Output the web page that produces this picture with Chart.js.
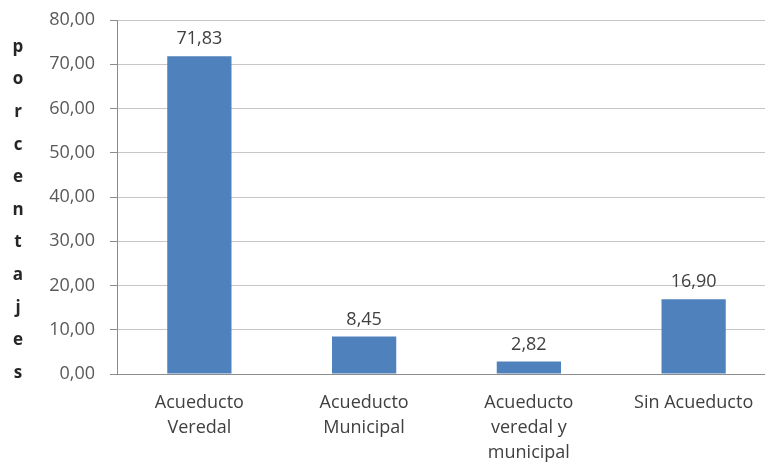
<!DOCTYPE html>
<html>
<head>
<meta charset="utf-8">
<script src="https://cdn.jsdelivr.net/npm/chart.js@4/dist/chart.umd.min.js"></script>
<style>
  body { margin:0; background:#fff; overflow:hidden; }
  #wrap { width:776px; height:470px; }
</style>
</head>
<body>
<div id="wrap"><canvas id="myChart"></canvas></div>
<script>
var categorias = [["Acueducto","Veredal"], ["Acueducto","Municipal"], ["Acueducto","veredal y","municipal"], "Sin Acueducto"];
var porcentajes = [71.83, 8.45, 2.82, 16.90];
var tituloY = "porcentajes";

function coma(v){ return v.toFixed(2).replace('.', ','); }

// etiquetas encima de cada barra
var etiquetas = {
  id:'etiquetas',
  afterDatasetsDraw:function(chart){
    var ctx = chart.ctx;
    var meta = chart.getDatasetMeta(0);
    ctx.save();
    ctx.font = '18px "Open Sans"';
    ctx.fillStyle = '#404040';
    ctx.textAlign = 'center';
    ctx.textBaseline = 'alphabetic';
    meta.data.forEach(function(bar, i){
      ctx.fillText(coma(porcentajes[i]), bar.x, bar.y - 12);
    });
    ctx.restore();
  }
};

// titulo vertical, letra por letra
var letras = {
  id:'letras',
  afterDraw:function(chart){
    var ctx = chart.ctx;
    var a = chart.chartArea;
    var ini = a.top + 27, fin = a.bottom - 1;
    var paso = (fin - ini) / (tituloY.length - 1);
    ctx.save();
    ctx.font = 'bold 17px "Open Sans"';
    ctx.fillStyle = '#262626';
    ctx.textAlign = 'center';
    ctx.textBaseline = 'middle';
    for (var i=0; i<tituloY.length; i++){
      ctx.fillText(tituloY[i], 18, ini + paso*i);
    }
    ctx.restore();
  }
};

var myChart = document.getElementById('myChart').getContext('2d');
var chart = new Chart(myChart,{
  type:'bar',
  data:{
    labels:categorias,
    datasets:[{
      data:porcentajes,
      backgroundColor:'#4F81BD',
      barPercentage:0.39,
      categoryPercentage:1
    }]
  },
  options:{
    responsive:true,
    maintainAspectRatio:false,
    animation:false,
    layout:{ padding:{ top:20, left:0, right:0, bottom:0 } },
    plugins:{ legend:{ display:false }, tooltip:{ enabled:false } },
    scales:{
      x:{
        grid:{ display:false, drawTicks:false },
        border:{ display:true, color:'#8c8c8c' },
        ticks:{ color:'#404040', padding:16, font:{ family:'Open Sans', size:18, lineHeight:1.4 }, maxRotation:0, autoSkip:false },
        afterFit:function(s){ s.height = 96; }
      },
      y:{
        min:0, max:80,
        grid:{ color:'#c6c6c6', tickLength:7, tickColor:'#8c8c8c' },
        border:{ display:true, color:'#8c8c8c' },
        ticks:{ stepSize:10, color:'#595959', padding:15, font:{ family:'Open Sans', size:18 },
          callback:function(v){ return coma(v); } },
        afterFit:function(s){ s.width = 117; s.paddingTop = 0; }
      }
    }
  },
  plugins:[etiquetas, letras]
});
</script>
</body>
</html>
